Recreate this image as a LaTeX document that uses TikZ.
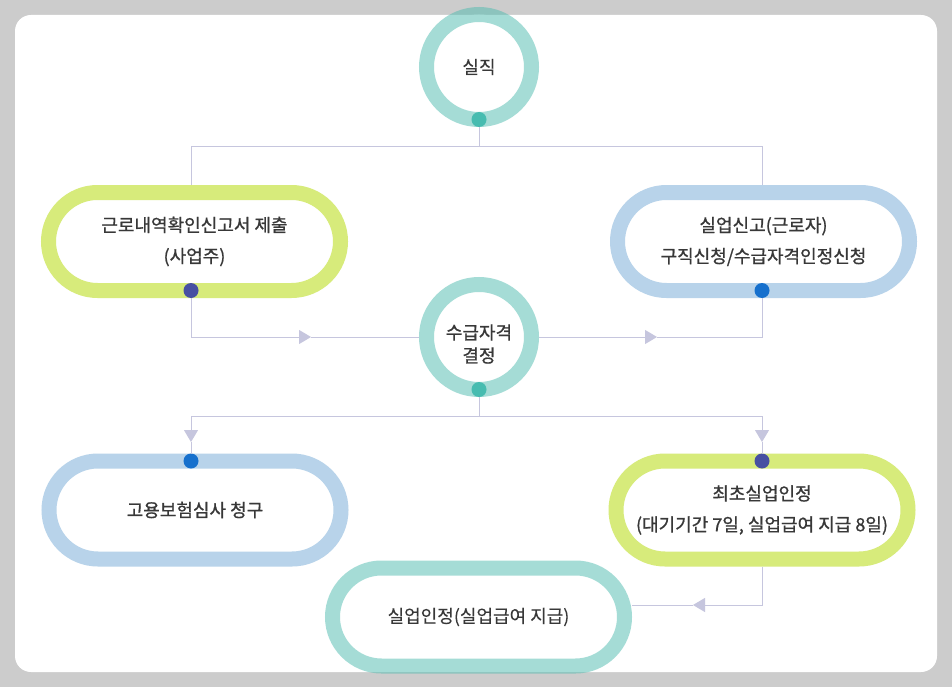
\documentclass[tikz,border=0pt]{standalone}
\usepackage{fontspec}
\setmainfont{Noto Sans CJK KR}[FakeBold=0.9]
\usetikzlibrary{shapes.misc,arrows.meta,calc}
\definecolor{bggray}{HTML}{CCCCCC}
\definecolor{tealX}{HTML}{4DBBAF}
\definecolor{greenring}{HTML}{D7EB7B}
\definecolor{bluering}{HTML}{B8D3EA}
\definecolor{dotteal}{HTML}{47BCB0}
\definecolor{dotnavy}{HTML}{4750A2}
\definecolor{dotblue}{HTML}{1670CD}
\definecolor{linec}{HTML}{C6C6DE}
\definecolor{txt}{HTML}{383838}
\begin{document}
\begin{tikzpicture}[x=1pt,y=-1pt,
  conn/.style={draw=linec, line width=1pt},
  tip/.style={-{Triangle[length=12pt,width=14pt,fill=linec]}},
  pill/.style={rounded rectangle, draw=#1, line width=15pt, fill=white,
     minimum width=292pt, minimum height=98pt, inner sep=0pt, align=center,
     text=txt, font=\fontsize{18}{31}\selectfont},
  tpill/.style={pill=tealX, draw opacity=0.5},
  ring/.style={circle, draw=tealX, draw opacity=0.5, line width=15pt, fill=white,
     minimum size=105pt, inner sep=0pt, align=center, text=txt,
     font=\fontsize{18}{23}\selectfont},
  dot/.style={circle, fill=#1, minimum size=15pt, inner sep=0pt}]
\fill[bggray] (0,0) rectangle (952,687);
\fill[white, rounded corners=16pt] (15,15) rectangle (937,672);

% nodes
\node[ring] (top) at (479,67) {실직};
\node[pill=greenring] (lp) at (194.5,241.5) {근로내역확인신고서 제출\\(사업주)};
\node[pill=bluering] (rp) at (763.5,241.5) {실업신고(근로자)\\구직신청/수급자격인정신청};
\node[ring] (mc) at (479,337) {};
\node[txt, align=center, font=\fontsize{18}{23}\selectfont] (mct) at (479,344) {수급자격\\결정};
\node[pill=bluering] (blp) at (195,510) {고용보험심사 청구};
\node[pill=greenring] (brp) at (762,510) {최초실업인정\\(대기기간 7일, 실업급여 지급 8일)};
\node[tpill] (bp) at (478.5,617) {실업인정(실업급여 지급)};

% dots
\node[dot=dotteal] (topd) at (479,119.5) {};
\node[dot=dotnavy] (lpd) at (191,290.5) {};
\node[dot=dotblue] (rpd) at (762,290.5) {};
\node[dot=dotteal] (mcd) at (479,389.5) {};
\node[dot=dotblue] (blpd) at (191,461) {};
\node[dot=dotnavy] (brpd) at (762,461) {};

% junctions and arrow points
\coordinate (j1) at (479,147);
\coordinate (a1) at (311,337);
\coordinate (a2) at (657,337);
\coordinate (j2) at (479,416);
\coordinate (a3) at (191,442);
\coordinate (a4) at (762,442);
\coordinate (a5) at (693,605);

% connectors
\draw[conn] (topd) -- (j1);
\draw[conn] (lpd |- lp.north) -- (lpd |- j1) -- (rpd |- j1) -- (rpd |- rp.north);
\draw[conn, tip] (lpd |- lp.south) |- (a1);
\draw[conn] (a1) -- (mc.west);
\draw[conn, tip] (mc.east) -- (a2);
\draw[conn] (a2) -| (rpd |- rp.south);
\draw[conn] (mcd) -- (j2);
\draw[conn, tip] (j2) -| (a3);
\draw[conn] (a3) -- (blpd |- blp.north);
\draw[conn, tip] (j2) -| (a4);
\draw[conn] (a4) -- (brpd |- brp.north);
\draw[conn, tip] (brpd |- brp.south) |- (a5);
\draw[conn] (a5) -- (bp.east |- a5);
\end{tikzpicture}
\end{document}
